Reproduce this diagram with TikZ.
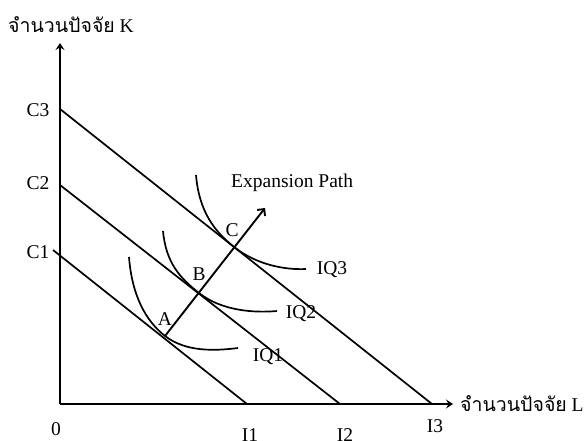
\documentclass[tikz,border=0pt]{standalone}
\usepackage{fontspec}
\setmainfont{Liberation Serif}
\newfontfamily\thaifont[Script=Thai]{Loma}
\usetikzlibrary{arrows.meta}
\begin{document}
\begin{tikzpicture}[x=1pt,y=-1pt,
  lbl/.style={font=\fontsize{19.5}{22}\selectfont, inner sep=0pt},
  axisline/.style={line width=2.4pt, -{Stealth[length=7pt,width=9pt,inset=2.5pt]}},
  budget/.style={line width=1.7pt},
  iso/.style={line width=1.7pt},
  expath/.style={line width=1.9pt, -{Straight Barb[length=5pt,width=10pt,line width=1.9pt]}}
]
\useasboundingbox (0,0) rectangle (585,440);
% coordinates
\coordinate (O) at (60,404);
\coordinate (ytop) at (60,43);
\coordinate (xend) at (453,404);
\coordinate (c1) at (53,250);
\coordinate (c2) at (60,185);
\coordinate (c3) at (60,109);
\coordinate (i1) at (247,404);
\coordinate (i2) at (340,404);
\coordinate (i3) at (432,404);
\coordinate (A) at (165,336);
\coordinate (B) at (199,293);
\coordinate (C) at (234,247);
\coordinate (tip) at (265,208);
% axes
\draw[axisline] (O) -- (ytop);
\draw[axisline] (O) -- (xend);
% budget lines
\draw[budget] (c1) -- (i1);
\draw[budget] (c2) -- (i2);
\draw[budget] (c3) -- (i3);
% isoquants
\draw[iso] (129,257) .. controls (132,296) and (146,321) .. (A)
  .. controls (186,352) and (214,351) .. (238,348);
\draw[iso] (163,231) .. controls (166,263) and (180,278) .. (B)
  .. controls (222,311) and (254,313) .. (277,311);
\draw[iso] (196,175) .. controls (199,211) and (214,231) .. (C)
  .. controls (257,265) and (285,270) .. (306,269);
% expansion path
\draw[expath] (A) -- (tip);
% labels
\node[lbl, anchor=west] (ylab) at (8,25) {{\thaifont จำนวนปัจจัย} K};
\node[lbl, anchor=west] (xlab) at (460,404) {{\thaifont จำนวนปัจจัย} L};
\node[lbl] (zero) at (56,429) {0};
\node[lbl] (lc1) at (38,252) {C1};
\node[lbl] (lc2) at (38,183) {C2};
\node[lbl] (lc3) at (38,110) {C3};
\node[lbl] (li1) at (250,435) {I1};
\node[lbl] (li2) at (345,435) {I2};
\node[lbl] (li3) at (435,426) {I3};
\node[lbl] (la) at (165,319) {A};
\node[lbl] (lb) at (199,274) {B};
\node[lbl] (lc) at (232,230) {C};
\node[lbl, anchor=west] (lexp) at (231,183) {Expansion Path};
\node[lbl] (liq1) at (268,357) {IQ1};
\node[lbl] (liq2) at (301,314) {IQ2};
\node[lbl] (liq3) at (332,270) {IQ3};
\end{tikzpicture}
\end{document}
